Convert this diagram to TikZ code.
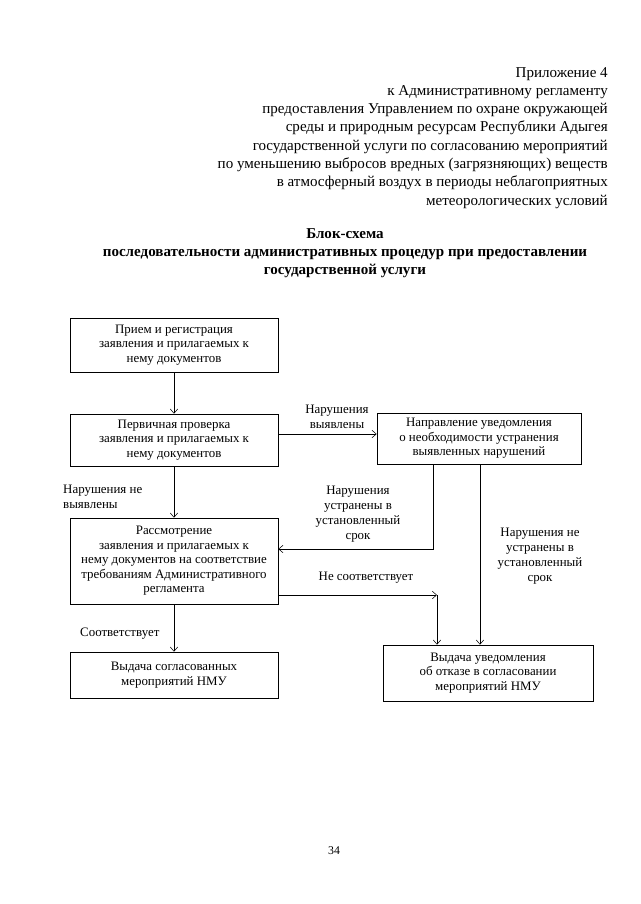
\documentclass[tikz,border=0pt]{standalone}
\usepackage{fontspec}
\setmainfont{Liberation Serif}
\usetikzlibrary{arrows.meta}
\def\PX{0.9297}
\begin{document}
\begin{tikzpicture}[x=0.9297pt,y=-0.9297pt,
  box/.style={draw, line width=0.6pt, align=center, inner sep=0pt,
    font=\fontsize{12}{13.5}\selectfont},
  lbl/.style={align=center, inner sep=0pt, font=\fontsize{12}{14}\selectfont},
  arr/.style={line width=0.5pt, -{Straight Barb[length=4pt,width=7pt]}},
  hdr/.style={inner sep=0pt, font=\fontsize{14}{17}\selectfont}]
\useasboundingbox[fill=white] (0,0) rectangle (640,904);

\node[hdr, anchor=north east, align=right] (head) at (608,64) {\strut Приложение 4\\
\strut к Административному регламенту\\
\strut предоставления Управлением по охране окружающей\\
\strut среды и природным ресурсам Республики Адыгея\\
\strut государственной услуги по согласованию мероприятий\\
\strut по уменьшению выбросов вредных (загрязняющих) веществ\\
\strut в атмосферный воздух в периоды неблагоприятных\\
\strut метеорологических условий};

\node[hdr, align=center, font=\fontsize{14}{16.7}\selectfont\bfseries] (title) at (345,253) {Блок-схема\\
последовательности административных процедур при предоставлении\\
государственной услуги};

\node[box, minimum width={208*\PX pt}, minimum height={54*\PX pt}] (b1) at (174,345)
  {Прием и регистрация\\заявления и прилагаемых к\\нему документов};
\node[box, minimum width={208*\PX pt}, minimum height={52*\PX pt}] (b2) at (174,440)
  {Первичная проверка\\заявления и прилагаемых к\\нему документов};
\node[box, minimum width={204*\PX pt}, minimum height={51*\PX pt}] (b3) at (479,438.5)
  {Направление уведомления\\о необходимости устранения\\выявленных нарушений};
\node[box, minimum width={208*\PX pt}, minimum height={86*\PX pt}] (b4) at (174,561)
  {Рассмотрение\\заявления и прилагаемых к\\нему документов на соответствие\\требованиям Административного\\регламента};
\node[box, minimum width={208*\PX pt}, minimum height={46*\PX pt}] (b5) at (174,675)
  {Выдача согласованных\\мероприятий НМУ};
\node[box, minimum width={210*\PX pt}, minimum height={56*\PX pt}] (b6) at (488,673)
  {Выдача уведомления\\об отказе в согласовании\\мероприятий НМУ};

\coordinate (c1) at (437,595);

\draw[arr] (b1.south) -- (b2.north);
\draw[arr] (b2.east |- 0,434) -- (b3.west |- 0,434);
\draw[arr] (b2.south) -- (b4.north);
\draw[arr] (b3.south -| 433,0) |- (b4.east |- 0,549);
\draw[arr] (b3.south -| 480,0) -- (b6.north -| 480,0);
\draw[arr] (b4.east |- c1) -- (c1);
\draw[arr] (c1) -- (b6.north -| c1);
\draw[arr] (b4.south) -- (b5.north);

\node[lbl] (l1) at (337,417) {Нарушения\\выявлены};
\node[lbl, anchor=west, align=left] (l2) at (63,497) {Нарушения не\\выявлены};
\node[lbl] (l3) at (358,514) {Нарушения\\устранены в\\установленный\\срок};
\node[lbl] (l4) at (540,556) {Нарушения не\\устранены в\\установленный\\срок};
\node[lbl] (l5) at (366,578) {Не соответствует};
\node[lbl, anchor=west] (l6) at (80,634) {Соответствует};

\node[inner sep=0pt, font=\fontsize{11}{13}\selectfont] (pg) at (334,851) {34};
\end{tikzpicture}
\end{document}
